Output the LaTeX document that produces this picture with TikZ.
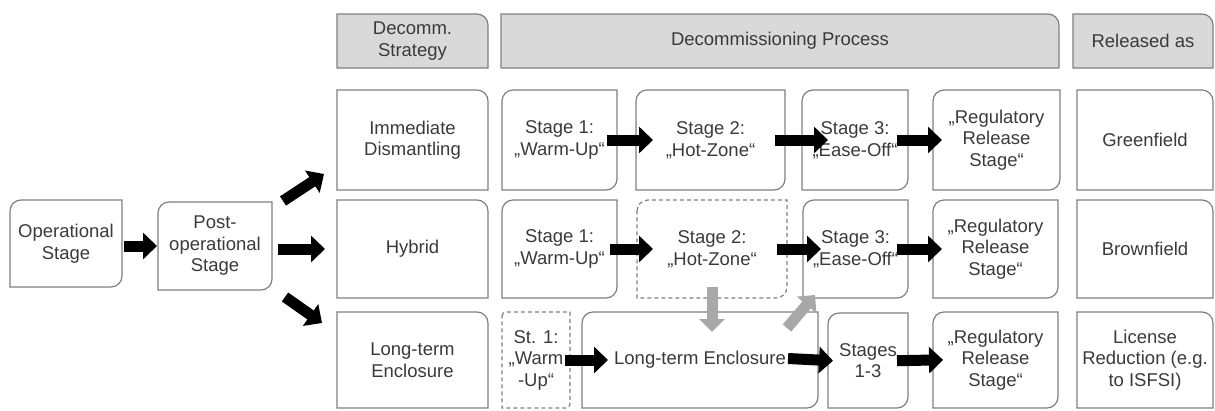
\documentclass[tikz,border=0pt]{standalone}
\usepackage{fontspec}
\setmainfont{Liberation Sans}
\usetikzlibrary{arrows.meta,backgrounds,calc}
\definecolor{txtc}{HTML}{3A3A3A}
\definecolor{linec}{HTML}{7F7F7F}
\definecolor{hdrfill}{HTML}{D9D9D9}
\definecolor{hatchc}{HTML}{A8A8A8}
\def\crad{11pt}
\tikzset{
 txt/.style={inner sep=0pt,outer sep=0pt,align=center,text=txtc,font=\fontsize{18.5}{21.5}\selectfont},
 bline/.style={draw=linec,line width=1.2pt},
 hdr/.style={fill=hdrfill},
 dsh/.style={dash pattern=on 4pt off 3pt},
 barrow/.style={draw=black,line width=11pt,-{Triangle[length=14pt,width=26pt]}},
 garrow/.style={draw=hatchc,line width=11pt,-{Triangle[length=13pt,width=25pt]}},
}
\newcommand\mkbox[6]{\node[txt,minimum width={(#4-#2)*1pt},minimum height={(#5-#3)*1pt}] (#1) at ({(#2+#4)/2},{-(#3+#5)/2}) {#6};}
\newcommand\tlbr[2][]{\begin{scope}[on background layer]\draw[bline,#1] ([yshift=-\crad]#2.north west) arc[start angle=180,end angle=90,radius=\crad] -- (#2.north east) -- ([yshift=\crad]#2.south east) arc[start angle=0,end angle=-90,radius=\crad] -- (#2.south west) -- cycle;\end{scope}}
\newcommand\trc[2][]{\begin{scope}[on background layer]\draw[bline,#1] (#2.north west) -- ([xshift=-\crad]#2.north east) arc[start angle=90,end angle=0,radius=\crad] -- (#2.south east) -- (#2.south west) -- cycle;\end{scope}}
\begin{document}
\begin{tikzpicture}[x=1pt,y=1pt]
\useasboundingbox (0,0) rectangle (1215,-410);
% headers
\mkbox{hstrat}{337}{14}{488}{68}{Decomm.\\Strategy}
\mkbox{hproc}{501}{14}{1059}{68}{Decommissioning Process}
\mkbox{hrel}{1073}{14}{1213}{68}{Released as}
\trc[hdr]{hstrat}\trc[hdr]{hproc}\trc[hdr]{hrel}
% left
\mkbox{op}{10}{200}{122}{287}{Operational\\Stage}
\mkbox{post}{158}{202}{272}{290}{Post-\\operational\\Stage}
\tlbr{op}\tlbr{post}
% row 1
\mkbox{imm}{337}{90}{488}{190}{Immediate\\Dismantling}
\mkbox{s1a}{502}{90}{617}{190}{Stage 1:\\„Warm-Up“}
\mkbox{s2a}{636}{90}{785}{190}{Stage 2:\\„Hot-Zone“}
\mkbox{s3a}{802}{90}{908}{190}{Stage 3:\\„Ease-Off“}
\mkbox{rga}{933}{90}{1060}{190}{„Regulatory\\Release\\Stage“}
\mkbox{gf}{1077}{90}{1213}{190}{Greenfield}
\trc{imm}\tlbr{s1a}\tlbr{s2a}\tlbr{s3a}\tlbr{rga}\trc{gf}
% row 2
\mkbox{hyb}{337}{200}{488}{298}{Hybrid}
\mkbox{s1b}{502}{200}{617}{298}{Stage 1:\\„Warm-Up“}
\mkbox{s2b}{637}{200}{787}{298}{Stage 2:\\„Hot-Zone“}
\mkbox{s3b}{803}{200}{908}{298}{Stage 3:\\„Ease-Off“}
\mkbox{rgb}{933}{200}{1058}{298}{„Regulatory\\Release\\Stage“}
\mkbox{bf}{1077}{200}{1213}{298}{Brownfield}
\trc{hyb}\tlbr{s1b}\tlbr[dsh]{s2b}\tlbr{s3b}\tlbr{rgb}\trc{bf}
% row 3
\mkbox{lt}{337}{312}{488}{408}{Long-term\\Enclosure}
\mkbox{st1}{502}{312}{570}{408}{St. 1:\\„Warm\\-Up“}
\mkbox{lte}{582}{312}{818}{408}{Long-term Enclosure}
\mkbox{s13}{828}{313}{908}{408}{Stages\\1-3}
\mkbox{rgc}{933}{312}{1058}{408}{„Regulatory\\Release\\Stage“}
\mkbox{lic}{1077}{312}{1213}{408}{License\\Reduction (e.g.\\to ISFSI)}
\trc{lt}{\def\crad{4pt}\tlbr[dsh]{st1}}\tlbr{lte}\tlbr{s13}\tlbr{rgc}\trc{lic}
% arrows
\draw[barrow,shorten <=2pt,shorten >=1pt] (op.east |- post.west) -- (post.west);
\draw[barrow] ($(post.north east)+(11,1)$) -- ($(imm.south west)+(-13,16)$);
\draw[barrow,shorten <=6pt,shorten >=12pt] (post.east |- hyb.west) -- (hyb.west);
\draw[barrow] ($(post.south east)+(13,-7)$) -- ($(lt.north west)+(-15,-11)$);
\draw[barrow,shorten <=-10pt,shorten >=-17pt] (s1a.east) -- (s2a.west);
\draw[barrow,shorten <=-10pt,shorten >=-26pt] (s2a.east) -- (s3a.west);
\draw[barrow,shorten <=-11pt,shorten >=-9pt] (s3a.east) -- (rga.west);
\draw[barrow,shorten <=-7pt,shorten >=-16pt] (s1b.east) -- (s2b.west);
\draw[barrow,shorten <=-10pt,shorten >=-18pt] (s2b.east) -- (s3b.west);
\draw[barrow,shorten <=-11pt,shorten >=-9pt] (s3b.east) -- (rgb.west);
\draw[barrow,shorten <=-5pt,shorten >=-26pt] (st1.east) -- (lte.west);
\draw[barrow,shorten <=-30pt,shorten >=-5pt] (lte.east) -- (s13.west);
\draw[barrow,shorten <=-11pt,shorten >=-10pt] (s13.east) -- (rgc.west);
\draw[garrow,shorten <=-11pt,shorten >=-20pt] (s2b.south) -- (s2b.south |- lte.north);
\draw[garrow] ($(lte.north east)+(-31,-16)$) -- ($(s3b.south west)+(12,3)$);
\end{tikzpicture}
\end{document}
